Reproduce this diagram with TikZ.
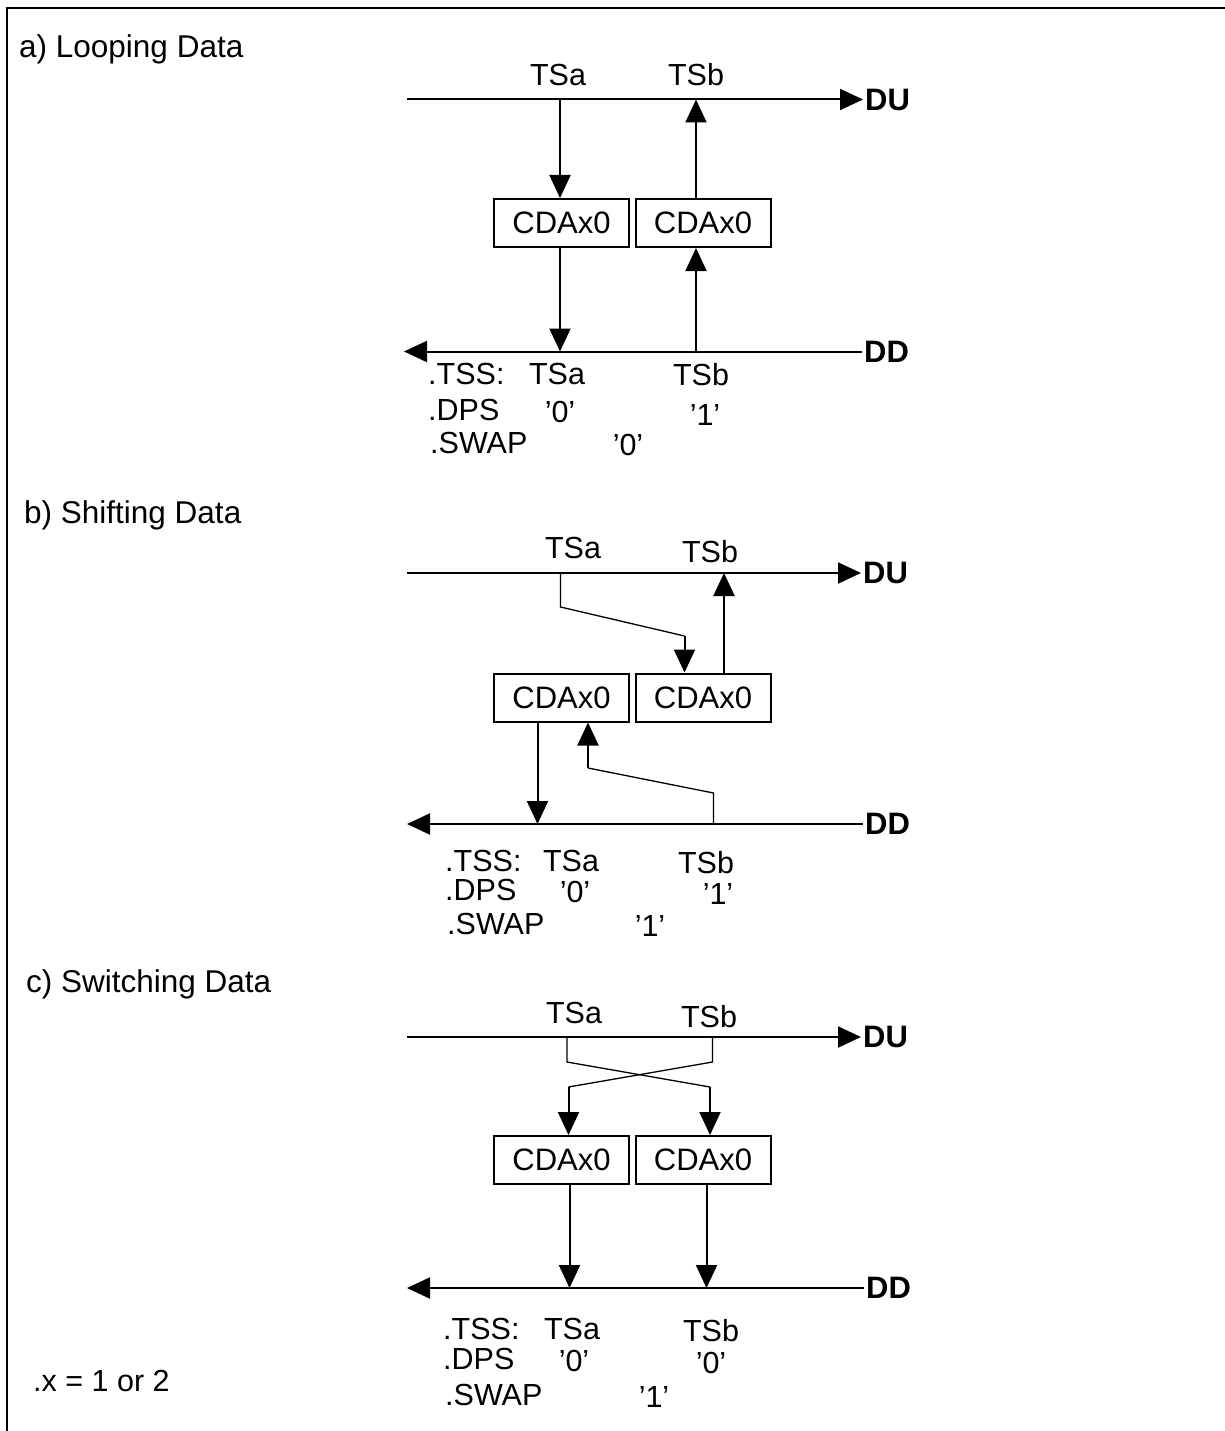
\documentclass[tikz,border=0pt]{standalone}
\usepackage{fontspec}
\setmainfont{Liberation Sans}
\usetikzlibrary{arrows.meta,positioning}

\begin{document}
\begin{tikzpicture}[x=1pt,y=1pt,
        font=\fontsize{30.5}{35}\selectfont,
        wire/.style={line width=2pt},
        thinwire/.style={line width=1.3pt},
        arr/.style={-{Triangle[length=23pt,width=21pt]},line width=2pt},
        cda/.style={draw,line width=2pt,minimum width=135pt,minimum height=48pt,
          inner sep=0pt,font=\fontsize{31}{35}\selectfont},
        txt/.style={inner sep=0pt,anchor=base},
        lft/.style={inner sep=0pt,anchor=base west},
        title/.style={inner sep=0pt,anchor=base west,font=\fontsize{31.5}{36}\selectfont},
        bus/.style={inner sep=2pt,anchor=west,font=\fontsize{31}{35}\selectfont\bfseries}
      ]
        \useasboundingbox (0,0) rectangle (1225,-1431);
        \draw[wire] (1225,-8) -- (7,-8) -- (7,-1431);

        \node[title] (tia) at (19,-58) {a) Looping Data};
        \node[bus] (DUa) at (863,-99.5) {DU};
        \node[bus] (DDa) at (862,-351.5) {DD};
        \coordinate (dula) at (407,-99.5);
        \coordinate (ddla) at (404,-351.5);
        \draw[arr] (dula) -- (DUa.west);
        \draw[arr] (DDa.west) -- (ddla);
        \node[cda] (ca1) at (561.5,-223) {CDAx0};
        \node[cda] (ca2) at (703,-223) {CDAx0};
        \coordinate (ua1) at (560,-99.5);
        \coordinate (ua2) at (696,-99.5);
        \coordinate (da1) at (560,-351.5);
        \coordinate (da2) at (696,-351.5);
        \draw[arr] (ua1) -- (ua1 |- ca1.north);
        \draw[arr] (ua2 |- ca2.north) -- (ua2);
        \draw[arr] (da1 |- ca1.south) -- (da1);
        \draw[arr] (da2) -- (da2 |- ca2.south);
        \node[txt] (tsaa) at (558,-86) {TSa};
        \node[txt] (tsba) at (696,-86) {TSb};
        \node[lft] (tssa) at (428,-384) {.TSS:};
        \node[txt] (tsa2a) at (557,-384) {TSa};
        \node[txt] (tsb2a) at (701,-385) {TSb};
        \node[lft] (dpsa) at (428,-420) {.DPS};
        \node[txt] (dpsa1) at (560,-422) {'0'};
        \node[txt] (dpsa2) at (705,-425) {'1'};
        \node[lft] (swapa) at (430,-453) {.SWAP};
        \node[txt] (swapa1) at (628,-455) {'0'};

        \node[title] (tib) at (24,-523) {b) Shifting Data};
        \node[bus] (DUb) at (861,-573) {DU};
        \node[bus] (DDb) at (863,-824) {DD};
        \coordinate (dulb) at (407,-573);
        \coordinate (ddlb) at (407,-824);
        \draw[arr] (dulb) -- (DUb.west);
        \draw[arr] (DDb.west) -- (ddlb);
        \node[cda] (cb1) at (561.5,-697.5) {CDAx0};
        \node[cda] (cb2) at (703,-697.5) {CDAx0};
        \coordinate (ub1) at (560.5,-573);
        \coordinate (ub2) at (724,-573);
        \coordinate (db1) at (537.5,-824);
        \coordinate (db2) at (713.5,-824);
        \draw[thinwire] (ub1) -- ++(0,-34) -- (684.5,-636) coordinate (kb1);
        \draw[arr] (kb1) -- (kb1 |- cb2.north);
        \draw[arr] (ub2 |- cb2.north) -- (ub2);
        \draw[arr] (db1 |- cb1.south) -- (db1);
        \draw[thinwire] (db2) -- ++(0,31) -- (588,-768) coordinate (kb2);
        \draw[arr] (kb2) -- (kb2 |- cb1.south);
        \node[txt] (tsab) at (573,-558) {TSa};
        \node[txt] (tsbb) at (710,-562) {TSb};
        \node[lft] (tssb) at (445,-871) {.TSS:};
        \node[txt] (tsa2b) at (571,-871) {TSa};
        \node[txt] (tsb2b) at (706,-873) {TSb};
        \node[lft] (dpsb) at (445,-900) {.DPS};
        \node[txt] (dpsb1) at (575,-902) {'0'};
        \node[txt] (dpsb2) at (718,-904) {'1'};
        \node[lft] (swapb) at (447,-934) {.SWAP};
        \node[txt] (swapb1) at (650,-936) {'1'};

        \node[title] (tic) at (26,-992) {c) Switching Data};
        \node[bus] (DUc) at (861,-1037) {DU};
        \node[bus] (DDc) at (864,-1288) {DD};
        \coordinate (dulc) at (407,-1037);
        \coordinate (ddlc) at (407,-1288);
        \draw[arr] (dulc) -- (DUc.west);
        \draw[arr] (DDc.west) -- (ddlc);
        \node[cda] (cc1) at (561.5,-1160) {CDAx0};
        \node[cda] (cc2) at (703,-1160) {CDAx0};
        \coordinate (uc1) at (567,-1037);
        \coordinate (uc2) at (712.5,-1037);
        \coordinate (dc1) at (569.5,-1288);
        \coordinate (dc2) at (706.5,-1288);
        \draw[thinwire] (uc1) -- ++(0,-25) -- (710,-1087) coordinate (kc1);
        \draw[arr] (kc1) -- (kc1 |- cc2.north);
        \draw[thinwire] (uc2) -- ++(0,-25) -- (568.5,-1087) coordinate (kc2);
        \draw[arr] (kc2) -- (kc2 |- cc1.north);
        \draw[arr] (dc1 |- cc1.south) -- (dc1);
        \draw[arr] (dc2 |- cc2.south) -- (dc2);
        \node[txt] (tsac) at (574,-1023) {TSa};
        \node[txt] (tsbc) at (709,-1027) {TSb};
        \node[lft] (tssc) at (443,-1339) {.TSS:};
        \node[txt] (tsa2c) at (572,-1339) {TSa};
        \node[txt] (tsb2c) at (711,-1341) {TSb};
        \node[lft] (dpsc) at (443,-1369) {.DPS};
        \node[txt] (dpsc1) at (574,-1371) {'0'};
        \node[txt] (dpsc2) at (711,-1373) {'0'};
        \node[lft] (swapc) at (445,-1405) {.SWAP};
        \node[txt] (swapc1) at (654,-1407) {'1'};
        \node[lft] (xnote) at (33,-1391) {.x = 1 or 2};
      \end{tikzpicture}
\end{document}
